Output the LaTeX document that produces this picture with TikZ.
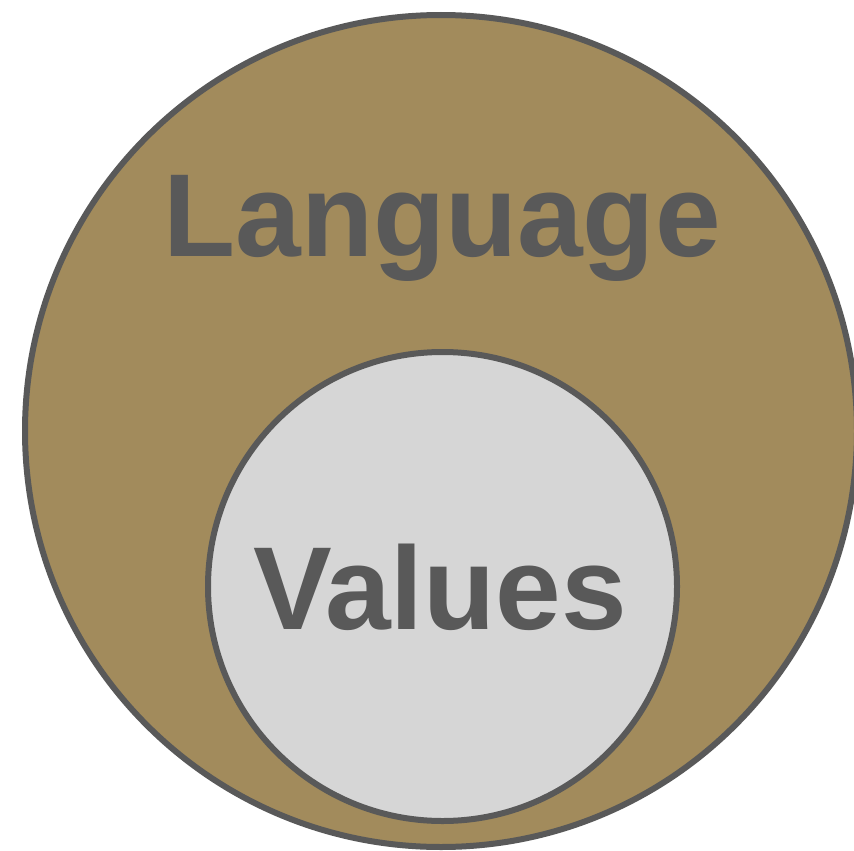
\documentclass[tikz,border=0pt]{standalone}
\usepackage{fontspec}
\setmainfont{Liberation Sans}
\definecolor{brownfill}{HTML}{A28B5C}
\definecolor{edgegray}{HTML}{595959}
\definecolor{innerfill}{HTML}{D6D6D6}
\tikzset{
  ring/.style={draw=edgegray, line width=6pt, circle},
  bigtext/.style={font=\fontsize{118}{130}\selectfont\bfseries, text=edgegray, inner sep=0pt}
}
\begin{document}
\begin{tikzpicture}[x=1pt,y=-1pt]
\useasboundingbox (0,0) rectangle (854,851);
\path[ring, fill=brownfill] (441,431) circle[radius=416];
\path[ring, fill=innerfill] (442.5,586.5) circle[radius=234.5];
\node[bigtext, anchor=base] (lang) at (442,256) {Language};
\node[bigtext, anchor=base] (vals) at (440,629) {Values};
\end{tikzpicture}
\end{document}
